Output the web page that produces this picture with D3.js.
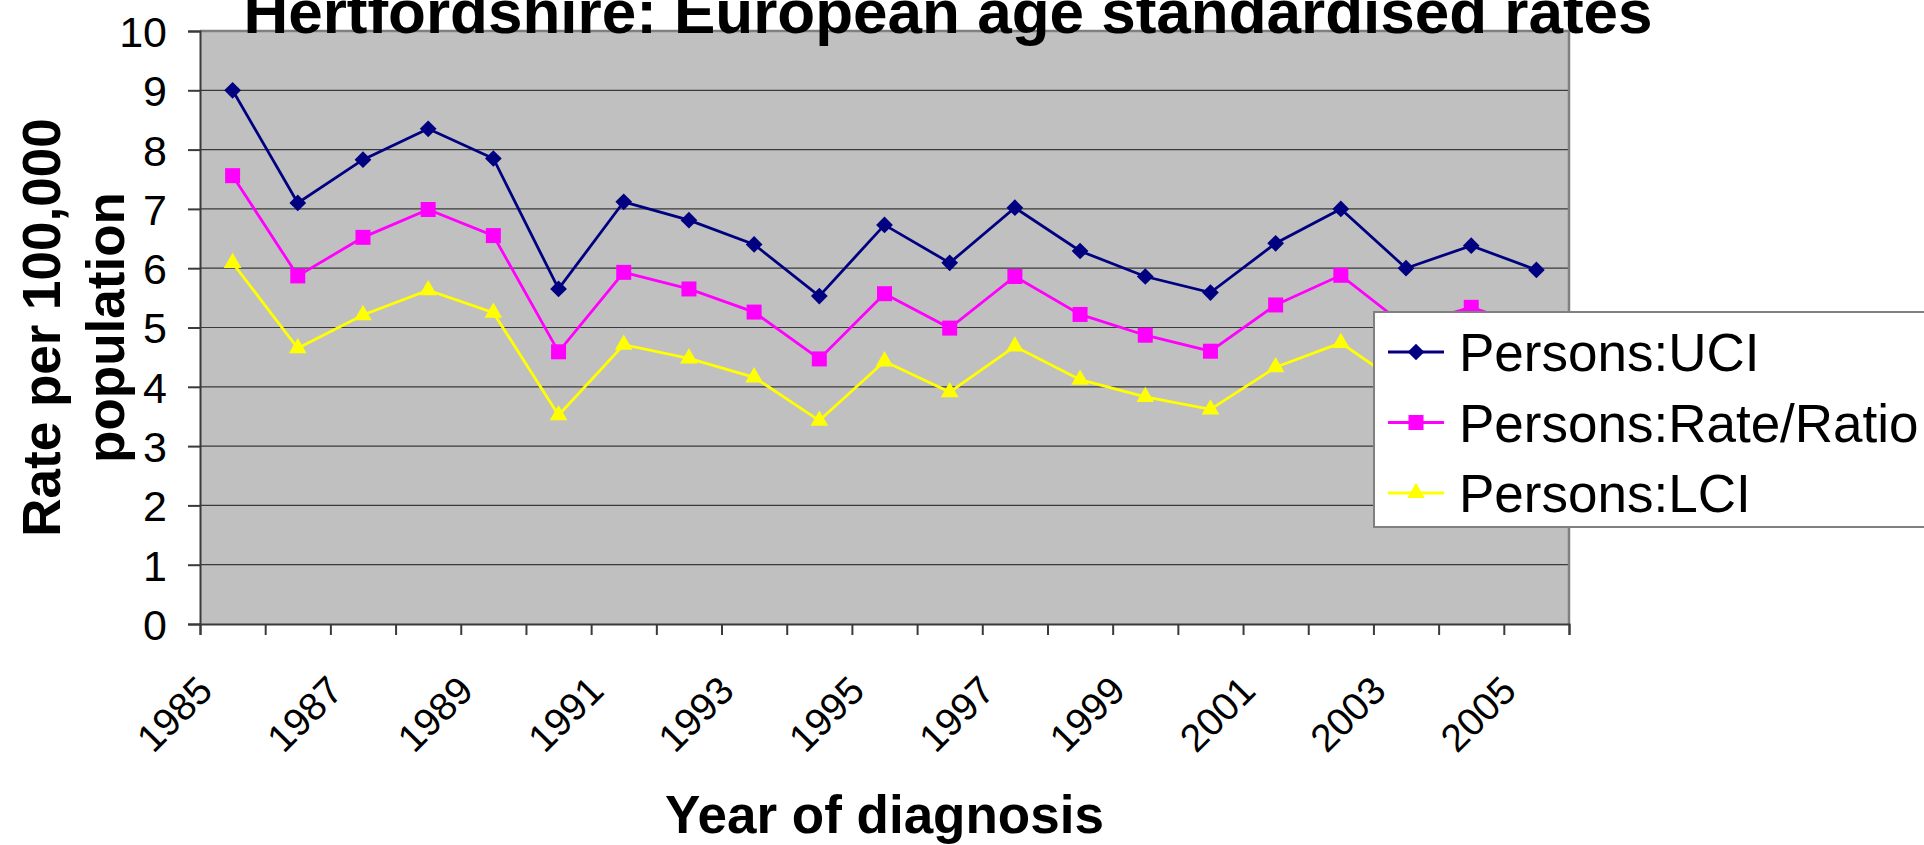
<!DOCTYPE html>
<html>
<head>
<meta charset="utf-8">
<script src="https://cdnjs.cloudflare.com/ajax/libs/d3/7.8.5/d3.min.js"></script>
<style>
  html, body { margin: 0; padding: 0; background: #fff; overflow: hidden; }
  svg { display: block; font-family: "Liberation Sans", Arial, sans-serif; }
</style>
</head>
<body>
<div id="chart_div"></div>
<script>
// values
const years = ["1985", "1986", "1987", "1988", "1989", "1990", "1991", "1992", "1993", "1994", "1995",
  "1996", "1997", "1998", "1999", "2000", "2001", "2002", "2003", "2004", "2005"];
const uci = [9.0, 7.1, 7.83, 8.35, 7.85, 5.65, 7.12, 6.81, 6.4, 5.53, 6.73,
  6.09, 7.02, 6.29, 5.86, 5.59, 6.42, 7.0, 6.0, 6.38, 5.97];
const rate = [7.56, 5.87, 6.52, 6.99, 6.55, 4.59, 5.93, 5.65, 5.26, 4.47, 5.57,
  4.99, 5.86, 5.22, 4.87, 4.6, 5.38, 5.88, 5.02, 5.34, 4.97];
const lci = [6.09, 4.65, 5.21, 5.63, 5.25, 3.52, 4.71, 4.48, 4.16, 3.43, 4.43,
  3.91, 4.68, 4.12, 3.83, 3.62, 4.33, 4.74, 3.98, 4.3, 3.95];
const seriesNames = ["Persons:UCI", "Persons:Rate/Ratio", "Persons:LCI"];
const yTicks = [0, 1, 2, 3, 4, 5, 6, 7, 8, 9, 10];
const xLabels = ["1985", "1987", "1989", "1991", "1993", "1995", "1997", "1999", "2001", "2003", "2005"];

(function () {
  const w = 1924, h = 845;
  const left = 200, right = 1569, top = 31, bottom = 624;

  const series = [
    { name: seriesNames[0], values: uci, color: "#000080", symbol: d3.symbolSquare, size: 140, rot: 45 },
    { name: seriesNames[1], values: rate, color: "#FF00FF", symbol: d3.symbolSquare, size: 225, rot: 0 },
    { name: seriesNames[2], values: lci, color: "#FFFF00", symbol: d3.symbolTriangle, size: 135, rot: 0 }
  ];

  const svg = d3.select("#chart_div")
    .append("svg")
    .attr("width", w)
    .attr("height", h);

  const x = d3.scaleBand().domain(years).range([left, right]);
  const xEdges = d3.scaleLinear().domain([0, years.length]).range([left, right]);
  const y = d3.scaleLinear().domain([0, 10]).range([bottom, top]);

  // plot area
  svg.append("rect")
    .attr("x", left).attr("y", top)
    .attr("width", right - left).attr("height", bottom - top)
    .attr("fill", "#C0C0C0");

  // grid
  svg.append("g")
    .selectAll("line")
    .data(yTicks.filter(d => d > 0 && d < 10))
    .enter().append("line")
    .attr("x1", left).attr("x2", right)
    .attr("y1", d => y(d)).attr("y2", d => y(d))
    .attr("stroke", "#3a3a3a").attr("stroke-width", 1.2);

  // top and right border
  svg.append("path")
    .attr("d", "M" + left + "," + top + "H" + right + "V" + bottom)
    .attr("fill", "none").attr("stroke", "#808080").attr("stroke-width", 2.5);

  // y axis
  const yAxis = svg.append("g")
    .attr("transform", "translate(" + left + ",0)")
    .call(d3.axisLeft(y).tickValues(yTicks).tickSize(12).tickPadding(21));
  yAxis.selectAll("line, path").attr("stroke", "#3a3a3a").attr("stroke-width", 2);
  yAxis.selectAll("text")
    .attr("font-size", 43).attr("font-family", "Liberation Sans, Arial, sans-serif")
    .attr("fill", "#000").attr("dy", "0.36em");

  // x axis ticks at category edges
  const xAxis = svg.append("g")
    .attr("transform", "translate(0," + bottom + ")")
    .call(d3.axisBottom(xEdges).tickValues(d3.range(years.length + 1)).tickSize(11).tickFormat(""));
  xAxis.selectAll("line, path").attr("stroke", "#3a3a3a").attr("stroke-width", 2);

  // x labels
  const xLab = svg.append("g")
    .attr("transform", "translate(0," + bottom + ")")
    .call(d3.axisBottom(x).tickValues(xLabels).tickSize(0));
  xLab.select(".domain").remove();
  xLab.selectAll("text")
    .attr("font-size", 39).attr("font-family", "Liberation Sans, Arial, sans-serif")
    .attr("fill", "#000")
    .attr("y", 0).attr("dy", 0)
    .attr("text-anchor", "end")
    .attr("transform", "translate(-18,69) rotate(-45)");

  // lines and markers
  const line = d3.line()
    .x((d, i) => x(years[i]) + x.bandwidth() / 2)
    .y(d => y(d));

  series.forEach(s => {
    svg.append("path")
      .attr("d", line(s.values))
      .attr("fill", "none")
      .attr("stroke", s.color)
      .attr("stroke-width", 2.8);
    svg.append("g")
      .selectAll("path")
      .data(s.values)
      .enter().append("path")
      .attr("d", d3.symbol(s.symbol, s.size))
      .attr("transform", (d, i) => "translate(" + (x(years[i]) + x.bandwidth() / 2) + "," + y(d) + ") rotate(" + s.rot + ")")
      .attr("fill", s.color);
  });

  // axis titles
  svg.append("text")
    .attr("x", (left + right) / 2).attr("y", 833)
    .attr("text-anchor", "middle")
    .attr("font-size", 53).attr("font-weight", "bold")
    .text("Year of diagnosis");

  const yt = svg.append("text")
    .attr("transform", "translate(60," + (top + bottom) / 2 + ") rotate(-90)")
    .attr("text-anchor", "middle")
    .attr("font-size", 53).attr("font-weight", "bold");
  yt.append("tspan").attr("x", 0).attr("y", 0).text("Rate per 100,000");
  yt.append("tspan").attr("x", 0).attr("y", 64).text("population");

  // title
  svg.append("text")
    .attr("x", 948).attr("y", 33)
    .attr("text-anchor", "middle")
    .attr("font-size", 62).attr("font-weight", "bold")
    .text("Hertfordshire: European age standardised rates");

  // legend
  const lg = svg.append("g").attr("transform", "translate(1374,312)");
  lg.append("rect")
    .attr("width", 620).attr("height", 215)
    .attr("fill", "#fff").attr("stroke", "#808080").attr("stroke-width", 2);
  series.forEach((s, i) => {
    const ry = 40 + i * 70.5;
    lg.append("line")
      .attr("x1", 14).attr("x2", 70).attr("y1", ry).attr("y2", ry)
      .attr("stroke", s.color).attr("stroke-width", 2.8);
    lg.append("path")
      .attr("d", d3.symbol(s.symbol, s.size))
      .attr("transform", "translate(42," + ry + ") rotate(" + s.rot + ")")
      .attr("fill", s.color);
    lg.append("text")
      .attr("x", 85).attr("y", ry).attr("dy", "0.36em")
      .attr("font-size", 53)
      .text(s.name);
  });
})();
</script>
</body>
</html>
